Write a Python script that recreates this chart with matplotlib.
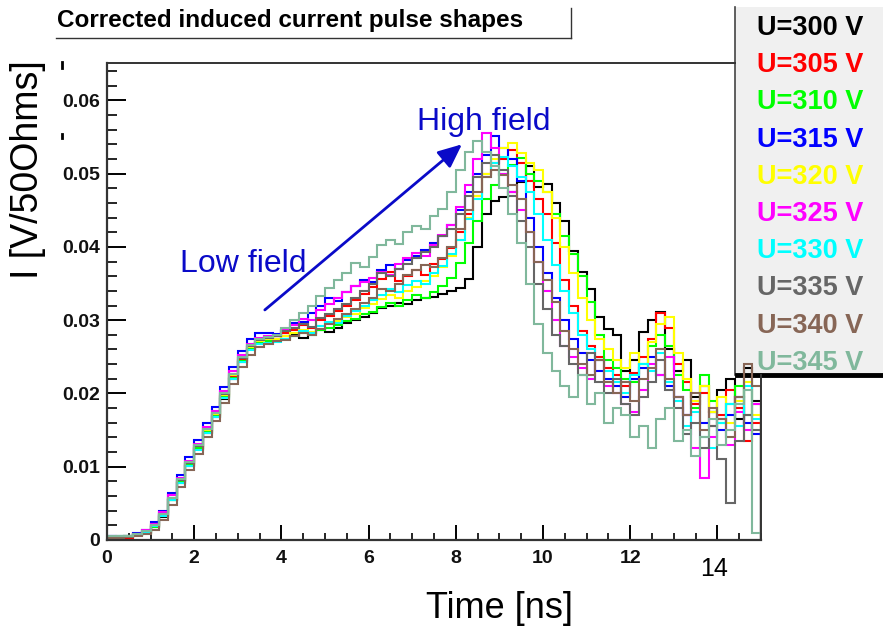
"""Corrected induced current pulse shapes for a bias-voltage scan (ROOT-style replot)."""
import numpy as np
import matplotlib
matplotlib.use("Agg")
import matplotlib.pyplot as plt
from matplotlib.lines import Line2D
from matplotlib.patches import Rectangle

plt.rcParams["font.family"] = ["Liberation Sans", "DejaVu Sans"]

# ---- data -----------------------------------------------------------------
# histogram: 75 bins of 0.2 ns from 0 to 15 ns, contents in mV (x1e-3 V/50 Ohm)
t_start, bin_ns, n_bins = 0.0, 0.2, 75

voltages = [300, 305, 310, 315, 320, 325, 330, 335, 340, 345]
colors = ["#000000", "#ff0000", "#00ff00", "#0000ff", "#ffff00",
          "#ff00ff", "#00ffff", "#666666", "#876656", "#80b89c"]

u300 = [0.4, 0.3, 0.4, 0.7, 1.0, 1.8, 3.2, 5.4, 7.8, 10.1, 12.4, 14.6, 16.8, 19.3, 22.0, 24.3, 26.0, 26.9, 27.2, 27.4,
        27.8, 28.0, 27.6, 28.3, 28.6, 28.4, 29.0, 29.6, 30.0, 30.4, 31.0, 31.6, 32.0, 32.4, 32.2, 32.8, 33.0, 33.2, 33.6, 34.0, 34.4, 35.6,
        40.0, 44.5, 46.2, 46.8, 47.5, 48.8, 51.0, 48.2, 48.6, 46.0, 43.5, 39.5, 36.6, 34.2, 30.5, 28.8, 28.0, 23.0, 24.5, 28.4,
        30.0, 31.1, 26.0, 23.0, 24.5, 19.5, 21.0, 17.5, 20.5, 22.0, 16.5, 23.5, 19.0]
u305 = [0.3, 0.4, 0.3, 0.8, 1.1, 1.9, 3.4, 5.6, 8.0, 10.4, 12.6, 14.9, 17.1, 19.7, 22.4, 24.6, 26.3, 27.3, 27.5, 27.8,
        28.2, 28.7, 29.3, 29.0, 30.0, 30.6, 31.2, 31.9, 32.8, 33.6, 34.5, 35.6, 36.6, 35.4, 36.0, 36.8, 36.2, 37.6, 38.4, 39.8, 42.0, 44.5,
        47.0, 50.0, 51.5, 52.0, 53.2, 51.5, 49.0, 46.5, 44.5, 40.5, 35.5, 32.0, 28.5, 26.5, 25.0, 23.5, 22.5, 21.0, 22.8, 25.0,
        27.5, 31.0, 29.0, 24.0, 21.5, 18.5, 20.0, 15.5, 17.0, 20.5, 18.0, 13.5, 16.0]
u310 = [0.3, 0.4, 0.5, 0.7, 1.0, 1.8, 3.3, 5.5, 7.9, 10.2, 12.5, 14.7, 16.9, 19.5, 22.1, 24.4, 26.1, 27.0, 27.2, 27.3,
        27.5, 27.9, 28.3, 28.0, 28.6, 29.0, 29.3, 29.9, 30.2, 30.8, 31.1, 31.8, 32.3, 32.0, 32.8, 33.4, 33.0, 33.9, 34.6, 35.8, 37.8, 40.5,
        43.5, 46.5, 48.5, 50.0, 51.2, 52.2, 50.0, 49.0, 47.5, 44.5, 41.5, 39.0, 36.0, 32.5, 28.0, 24.5, 23.5, 22.0, 21.5, 24.0,
        26.5, 28.0, 26.5, 22.5, 20.5, 18.0, 22.5, 19.0, 16.0, 18.5, 21.0, 17.0, 18.5]
u315 = [0.5, 0.5, 0.6, 0.9, 1.4, 2.4, 4.0, 6.4, 8.9, 11.3, 13.6, 15.9, 18.2, 20.9, 23.6, 25.8, 27.4, 28.2, 28.2, 28.1,
        28.6, 29.6, 29.8, 31.0, 32.0, 33.0, 32.6, 33.8, 34.6, 35.5, 35.2, 36.8, 37.5, 37.0, 38.2, 38.8, 39.6, 40.5, 41.5, 43.0, 45.0, 47.5,
        50.0, 52.5, 55.2, 53.5, 52.0, 49.0, 44.0, 40.0, 36.5, 33.0, 30.0, 27.5, 25.5, 24.5, 23.0, 22.0, 21.0, 19.5, 22.0, 23.5,
        25.0, 22.5, 21.0, 19.5, 17.0, 19.0, 16.0, 17.5, 15.0, 17.0, 19.5, 16.0, 14.5]
u320 = [0.4, 0.5, 0.5, 0.8, 1.2, 2.0, 3.5, 5.7, 8.2, 10.5, 12.8, 15.0, 17.2, 19.8, 22.5, 24.8, 26.4, 27.2, 27.4, 27.5,
        27.8, 28.2, 28.7, 28.4, 29.2, 29.6, 29.9, 30.5, 30.8, 31.6, 32.2, 32.9, 33.4, 33.0, 34.0, 34.5, 35.3, 36.0, 37.2, 38.8, 41.0, 44.0,
        47.0, 50.0, 52.0, 53.5, 54.2, 52.8, 51.5, 50.5, 47.5, 44.0, 40.0, 36.5, 33.0, 30.0, 27.5, 26.0, 24.5, 23.5, 25.5, 24.0,
        27.0, 29.5, 30.5, 25.5, 22.0, 19.0, 21.0, 17.5, 19.5, 16.0, 19.0, 21.5, 17.0]
u325 = [0.5, 0.4, 0.6, 0.8, 1.3, 2.2, 3.8, 6.1, 8.5, 10.8, 13.1, 15.4, 17.6, 20.3, 23.0, 25.2, 26.8, 27.6, 27.9, 27.8,
        28.6, 29.4, 30.2, 30.0, 31.4, 32.2, 33.0, 33.8, 34.6, 35.2, 35.8, 36.6, 36.2, 37.6, 38.5, 39.2, 38.8, 40.3, 41.6, 43.0, 45.5, 48.5,
        52.0, 55.5, 53.5, 50.0, 47.5, 45.0, 42.0, 38.0, 34.0, 30.0, 26.5, 25.0, 23.5, 22.0, 24.5, 21.0, 20.0, 18.5, 17.5, 20.5,
        24.0, 22.5, 25.0, 19.5, 17.0, 12.5, 8.5, 14.0, 16.5, 13.0, 17.5, 15.0, 18.5]
u330 = [0.6, 0.5, 0.5, 0.7, 1.1, 1.9, 3.3, 5.4, 7.8, 10.1, 12.3, 14.6, 16.8, 19.4, 22.0, 24.3, 25.9, 26.7, 26.9, 27.0,
        27.4, 27.9, 28.5, 28.3, 29.2, 29.8, 29.6, 30.6, 31.3, 32.0, 32.8, 33.5, 34.2, 33.8, 34.8, 35.4, 35.0, 36.4, 37.4, 39.0, 41.0, 43.8,
        46.5, 49.5, 51.5, 52.3, 51.0, 49.5, 47.5, 44.5, 41.0, 37.5, 34.0, 31.0, 28.0, 26.0, 24.5, 23.0, 21.5, 20.0, 22.5, 24.0,
        23.0, 25.5, 21.5, 19.0, 15.5, 17.5, 14.0, 12.5, 16.0, 18.5, 15.5, 21.0, 16.5]
u335 = [0.4, 0.4, 0.5, 0.8, 1.2, 2.0, 3.5, 5.8, 8.2, 10.5, 12.8, 15.1, 17.3, 19.9, 22.6, 24.9, 26.5, 27.3, 27.6, 27.8,
        28.5, 28.9, 29.5, 29.1, 30.3, 30.9, 31.5, 32.2, 33.0, 34.0, 35.0, 36.5, 36.0, 37.0, 37.6, 38.5, 39.3, 40.0, 41.5, 42.5, 44.5, 47.0,
        49.5, 51.5, 52.6, 50.5, 47.0, 43.5, 40.0, 35.0, 31.5, 28.0, 26.5, 24.0, 22.5, 25.5, 21.5, 20.0, 22.0, 18.5, 17.0, 19.5,
        21.5, 24.5, 20.5, 18.0, 14.5, 16.0, 12.5, 15.5, 11.0, 5.0, 13.5, 17.0, 15.0]
u340 = [0.3, 0.3, 0.4, 0.5, 0.8, 1.4, 2.7, 4.8, 7.2, 9.5, 11.8, 14.0, 16.2, 18.7, 21.3, 23.6, 25.3, 26.3, 26.7, 27.1,
        27.3, 27.8, 28.2, 28.0, 28.8, 29.5, 30.2, 30.8, 31.5, 32.3, 33.0, 34.3, 34.0, 35.0, 36.2, 36.8, 37.5, 37.2, 38.5, 40.0, 42.5, 45.0,
        47.5, 49.5, 50.5, 49.8, 48.5, 46.5, 42.0, 38.0, 35.5, 32.5, 28.5, 26.0, 24.0, 22.5, 24.5, 21.5, 20.0, 21.5, 19.0, 22.0,
        23.5, 26.0, 22.0, 19.5, 17.0, 20.0, 15.0, 18.0, 16.5, 14.0, 19.5, 24.0, 21.0]
u345 = [0.5, 0.6, 0.6, 0.8, 1.2, 2.0, 3.6, 5.8, 8.3, 10.6, 12.9, 15.1, 17.4, 20.0, 22.7, 25.0, 26.6, 27.4, 27.7, 28.0,
        29.0, 30.0, 31.0, 32.0, 33.3, 34.4, 35.5, 36.5, 37.8, 37.2, 38.6, 40.2, 41.0, 40.4, 42.0, 42.8, 42.4, 44.2, 45.2, 47.5, 50.5, 53.0,
        54.5, 53.0, 51.0, 48.0, 44.5, 40.5, 35.0, 29.5, 25.5, 23.0, 21.0, 19.5, 22.5, 18.5, 20.0, 16.0, 18.0, 17.0, 14.0, 15.5,
        12.5, 16.5, 18.0, 13.5, 15.0, 11.5, 14.0, 16.5, 13.0, 15.0, 18.5, 20.5, 1.0]
series = [u300, u305, u310, u315, u320, u325, u330, u335, u340, u345]

x_ticks = [0, 2, 4, 6, 8, 10, 12, 14]
x_labels = ["0", "2", "4", "6", "8", "10", "12", ""]
y_ticks = [0, 0.01, 0.02, 0.03, 0.04, 0.05, 0.06]
y_labels = ["0", "0.01", "0.02", "0.03", "0.04", "0.05", "0.06"]

# ---- figure ---------------------------------------------------------------
W, H = 883, 634
fig = plt.figure(figsize=(W / 100, H / 100), dpi=100)


def fx(px):
    return px / W


def fy(py):
    return 1 - py / H


ax = fig.add_axes([fx(107), fy(540), fx(761) - fx(107), fy(63) - fy(540)])
edges = t_start + bin_ns * np.arange(n_bins + 1)
for vals, col in zip(series, colors):
    ax.stairs(np.asarray(vals) * 1e-3, edges, color=col, lw=1.5, zorder=2)

ax.set_xlim(0, 15)
ax.set_ylim(0, 0.0651)
ax.set_xticks(x_ticks, x_labels)
ax.set_yticks(y_ticks, y_labels)
ax.set_xticks(np.arange(0, 15.01, 0.5), minor=True)
ax.set_yticks(np.arange(0, 0.0651, 0.002), minor=True)
ax.tick_params(axis="x", which="major", direction="in", length=10.5, width=1.4, pad=7)
ax.tick_params(axis="x", which="minor", direction="in", length=5, width=1.2)
ax.tick_params(axis="y", which="major", direction="in", length=14, width=1.4, pad=5)
ax.tick_params(axis="y", which="minor", direction="in", length=7, width=1.2)
for lab in ax.get_xticklabels() + ax.get_yticklabels():
    lab.set_fontsize(14)
    lab.set_fontweight("bold")
    lab.set_color("#111111")
for s in ("left", "bottom"):
    ax.spines[s].set_linewidth(1.6)
    ax.spines[s].set_color("#333333")
ax.spines["top"].set_visible(False)
ax.spines["right"].set_visible(False)

# frame pieces not hidden by the legend box
fig.add_artist(Line2D([fx(107), fx(735)], [fy(63), fy(63)], color="#333333", lw=1.4))
fig.add_artist(Line2D([fx(761), fx(761)], [fy(375), fy(540)], color="#333333", lw=1.4))

# legend box (drawn below the histograms, like the original pad)
ax.add_patch(Rectangle((fx(735), fy(375)), fx(883) - fx(735), fy(7) - fy(375),
                       transform=fig.transFigure, facecolor="#f0f0f0",
                       edgecolor="none", clip_on=False, zorder=1.5))
ax.add_line(Line2D([fx(735), fx(735)], [fy(7), fy(375)], transform=fig.transFigure,
                   color="#444444", lw=1.2, clip_on=False, zorder=1.6))
ax.add_line(Line2D([fx(737), fx(883)], [fy(375), fy(375)], transform=fig.transFigure,
                   color="black", lw=3.5, clip_on=False, zorder=1.7))
for i, (v, col) in enumerate(zip(voltages, colors)):
    ax.text(fx(757), fy(28 + 37.2 * i), f"U={v} V", transform=fig.transFigure,
            color=col, fontsize=19.5, fontweight="bold", ha="left", va="center",
            clip_on=False, zorder=1.6)

# title box
fig.text(fx(57), fy(21), "Corrected induced current pulse shapes",
         fontsize=17.5, fontweight="bold", ha="left", va="center")
fig.add_artist(Line2D([fx(56), fx(571)], [fy(38), fy(38)], color="#333333", lw=1.0))
fig.add_artist(Line2D([fx(571), fx(571)], [fy(8), fy(38)], color="#333333", lw=1.0))

# stray marks left of the y axis
fig.add_artist(Line2D([fx(62), fx(62)], [fy(62), fy(68)], color="black", lw=2))
fig.add_artist(Line2D([fx(62), fx(62)], [fy(134), fy(138)], color="black", lw=2))

# axis titles
fig.text(fx(28), fy(170), "I [V/50Ohms]", rotation=90, fontsize=27,
         ha="center", va="center")
fig.text(fx(500), fy(608), "Time [ns]", fontsize=26, ha="center", va="center")
fig.text(fx(714), fy(569), "14", fontsize=18, ha="center", va="center")

# annotations
blue = "#0a0ac8"
ax.text(3.13, 0.0377, "Low field", color=blue, fontsize=23, ha="center", va="center")
ax.text(8.65, 0.0570, "High field", color=blue, fontsize=23, ha="center", va="center")
ax.annotate("", xy=(8.14, 0.0540), xytext=(3.62, 0.0314),
            arrowprops=dict(arrowstyle="-|>,head_length=0.9,head_width=0.4",
                            mutation_scale=16, color=blue, lw=2, shrinkA=0, shrinkB=0))

fig.savefig("out.png", dpi=100)
